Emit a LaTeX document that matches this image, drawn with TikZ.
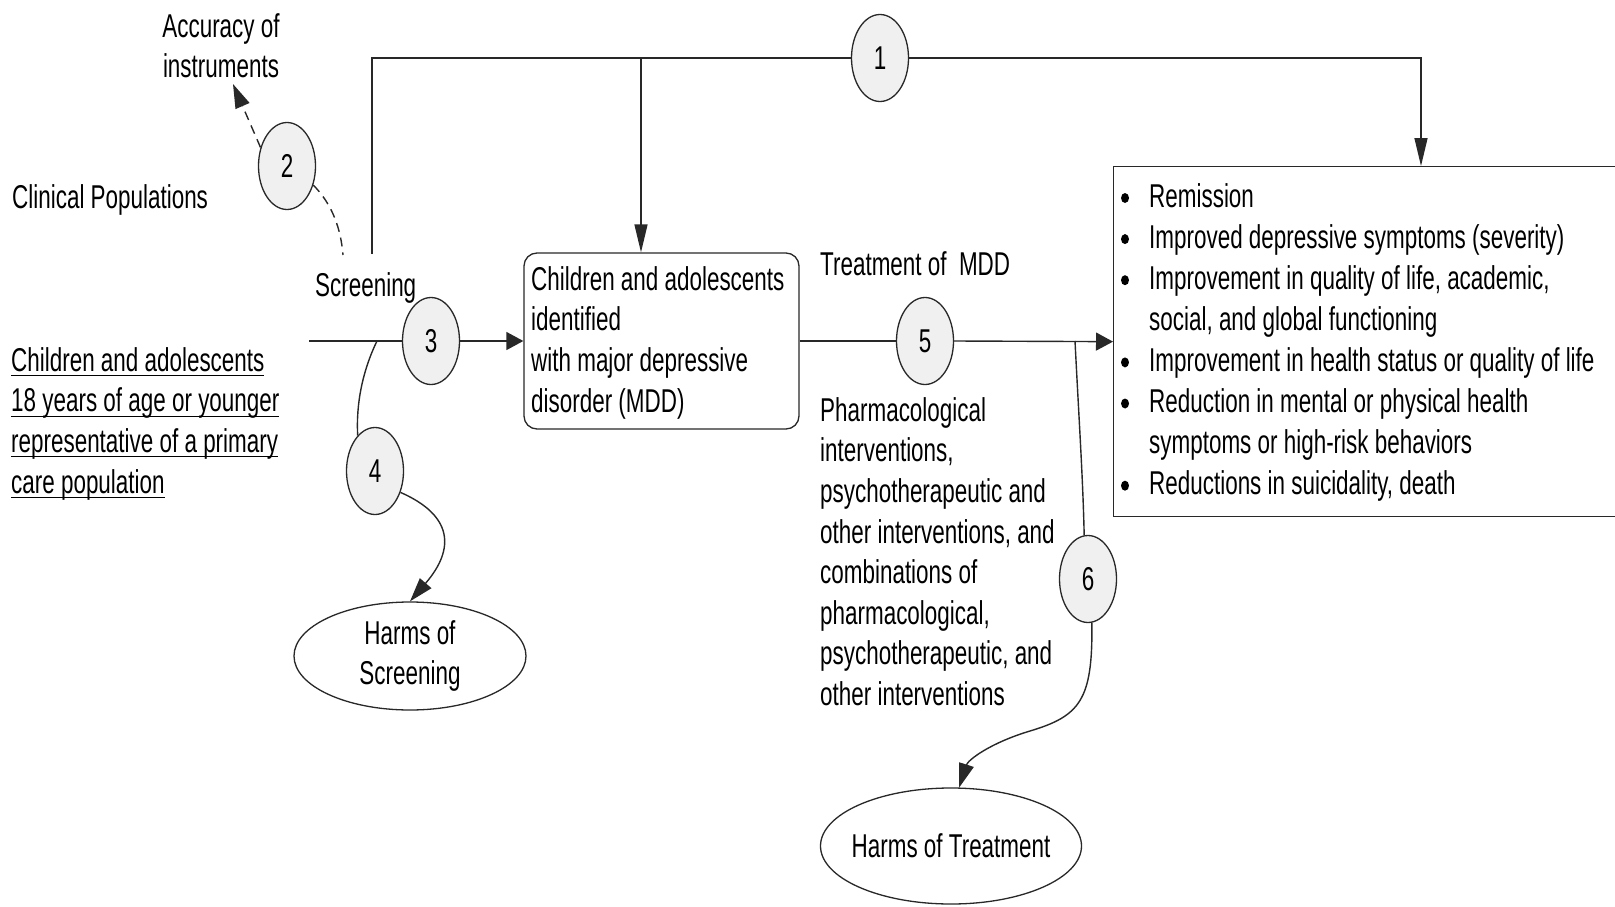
\documentclass[tikz,border=0pt]{standalone}
\usepackage{fontspec}
\setmainfont[FakeStretch=0.68]{Liberation Sans}
\usetikzlibrary{shapes.geometric,arrows.meta,calc}
\definecolor{cfill}{RGB}{240,240,240}
\definecolor{lncol}{RGB}{40,40,40}
\newcommand\myul[1]{\setbox0\hbox{#1}\rlap{\rule[-5pt]{\wd0}{1.3pt}}\box0}
\newcommand\topstrut{\rule{0pt}{30pt}}
\begin{document}
\begin{tikzpicture}[x=1pt,y=-1pt,
  every node/.style={inner sep=0pt, font=\fontsize{33}{40.6}\selectfont, text=black},
  num/.style={ellipse, draw=lncol, line width=1.3pt, fill=cfill, minimum width=57pt, minimum height=87pt},
  txt/.style={anchor=north west, align=left},
  wire/.style={draw=lncol, line width=1.4pt},
  boxed/.style={draw=lncol, line width=1.3pt},
  arrH/.style={wire, -{Triangle[length=17pt,width=18pt]}},
  arrV/.style={wire, -{Triangle[length=28pt,width=13pt]}},
  arrD/.style={wire, -{Triangle[length=24pt,width=15pt]}},
  dsh/.style={dash pattern=on 9pt off 6pt}
]
\fill[white] (0,0) rectangle (1615,907);
\useasboundingbox (0,0) rectangle (1615,907);

% texts
\node[anchor=north, align=center] (acc) at (221,7) {\topstrut Accuracy of\\instruments};
\node[anchor=base west] (clin) at (12,208) {Clinical Populations};
\node[anchor=base west] (scr) at (315,296) {Screening};
\node[txt] (pop) at (11,341) {\topstrut\myul{Children and adolescents}\\\myul{18 years of age or younger}\\\myul{representative of a primary}\\\myul{care population}};

% MDD box
\node[boxed, rounded corners=13pt, minimum width=275pt, minimum height=176pt] (mdd) at (661.5,341) {};
\node[txt] (mddtxt) at (531,260) {\topstrut Children and adolescents\\identified\\with major depressive\\disorder (MDD)};

\node[anchor=base west] (treat) at (820,275) {Treatment of\ \ MDD};
\node[txt] (pharm) at (820,391) {\topstrut Pharmacological\\interventions,\\psychotherapeutic and\\other interventions, and\\combinations of\\pharmacological,\\psychotherapeutic, and\\other interventions};

% outcomes box
\node[boxed, anchor=north west, minimum width=520pt, minimum height=350pt] (out) at (1113,166) {};
\node[txt, font=\fontsize{33}{41.1}\selectfont] (outtxt) at (1149,177) {\topstrut Remission\\Improved depressive symptoms (severity)\\Improvement in quality of life, academic,\\social, and global functioning\\Improvement in health status or quality of life\\Reduction in mental or physical health\\symptoms or high-risk behaviors\\Reductions in suicidality, death};
\foreach \k in {0,1,2,4,5,7}
  \fill[black] (1125,{198+41.1*\k}) ellipse (4pt and 5pt);

% harms
\node[ellipse, boxed, minimum width=232pt, minimum height=108pt, align=center] (hs) at (410,656) {Harms of\\Screening};
\node[ellipse, boxed, minimum width=261pt, minimum height=116pt] (ht) at (951,846) {};
\node (httxt) at (ht.center) {Harms of Treatment};

% numbered circles
\node[num] (c1) at (880,58) {1};
\node[num] (c2) at (287,166) {2};
\node[num] (c3) at (431,341) {3};
\node[num] (c4) at (375,471) {4};
\node[num] (c5) at (925,341) {5};
\node[num] (c6) at (1088,579) {6};

% coordinates
\coordinate (s0) at (309,341);
\coordinate (b4) at (377,341);
\coordinate (b6) at (1075,341);
\coordinate (vtop) at (372,254);
\coordinate (tl) at (372,58);
\coordinate (j1) at (641,58);
\coordinate (tr) at (1421,58);
\coordinate (dend) at (343,255);
\coordinate (acctip) at (233,84);

% connectors
\draw[wire] (vtop) -- (tl) -- (c1.west);
\draw[arrV] (c1.east) -- (tr) -- (tr |- out.north);
\draw[arrV] (j1) -- (j1 |- mdd.north);
\draw[wire] (s0) -- (c3.west);
\draw[arrH] (c3.east) -- (mdd.west);
\draw[wire] (mdd.east) -- (c5.west);
\draw[arrH] (c5.east) -- (out.west);
\draw[wire] (b4) .. controls (362,372) and (356,405) .. (c4.116);
\draw[arrD] (c4.-40) .. controls (452,515) and (456,548) .. (hs.north);
\draw[wire] (b6) .. controls (1079,420) and (1083,480) .. (c6.95);
\draw[arrD] (c6.-85) .. controls (1093,700) and (1080,716) .. (1030,731) .. controls (990,743) and (968,760) .. (ht.82);
\draw[arrD, dsh] (c2.145) -- (acctip);
\draw[wire, dsh] (c2.-36) .. controls (333,205) and (341,230) .. (dend);
\end{tikzpicture}
\end{document}
